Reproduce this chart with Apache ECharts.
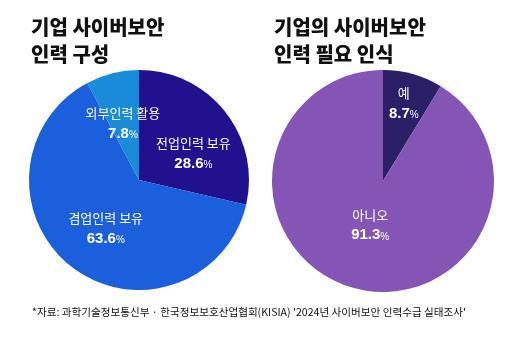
<!DOCTYPE html>
<html><head><meta charset="utf-8">
<script src="https://cdn.jsdelivr.net/npm/echarts@6/dist/echarts.min.js"></script>
<style>html,body{margin:0;padding:0;background:#fff}#c{width:520px;height:362px}</style>
</head><body><div id="c"></div>
<script>
const leftTitle = '기업 사이버보안\n인력 구성';
const rightTitle = '기업의 사이버보안\n인력 필요 인식';
const leftCategories = ['전업인력 보유', '겸업인력 보유', '외부인력 활용'];
const leftValues = [28.6, 63.6, 7.8];
const rightCategories = ['예', '아니오'];
const rightValues = [8.7, 91.3];
const source = "*자료: 과학기술정보통신부 · 한국정보보호산업협회(KISIA) '2024년 사이버보안 인력수급 실태조사'";

const leftColors = ['#21118f', '#1b5fdc', '#1a8bd9'];
const rightColors = ['#2b2068', '#8555b5'];
const leftOffsets = [[9, 10], [2, 3], [-2, 0]];
const rightOffsets = [[5, -21], [3, -12]];

const KR = '"Noto Sans CJK KR", "Noto Sans", sans-serif';
const rich = {
  n: {color: '#fff', fontSize: 13, fontFamily: KR, lineHeight: 20},
  v: {color: '#fff', fontSize: 15, fontWeight: 'bold', fontFamily: 'Liberation Sans, Arial, sans-serif', lineHeight: 21},
  p: {color: '#fff', fontSize: 10, fontFamily: 'Liberation Sans, Arial, sans-serif', lineHeight: 21, padding: [3, 0, 0, 0]}
};

function mk(cats, vals, colors, offs) {
  return cats.map((c, i) => ({
    name: c, value: vals[i],
    itemStyle: {color: colors[i]},
    label: {offset: offs[i]}
  }));
}

const chart = echarts.init(document.getElementById('c'), null, {renderer: 'canvas'});
chart.setOption({
  backgroundColor: '#fff',
  animation: false,
  title: [
    {text: leftTitle, left: 26, top: 9, textStyle: {fontFamily: KR, fontSize: 20, fontWeight: 900, color: '#111', lineHeight: 27}},
    {text: rightTitle, left: 269, top: 9, textStyle: {fontFamily: KR, fontSize: 20, fontWeight: 900, color: '#111', lineHeight: 27}},
    {text: source, left: 27, top: 302, textStyle: {fontFamily: KR, fontSize: 10.6, fontWeight: 'normal', color: '#111'}}
  ],
  series: [
    {
      type: 'pie', center: [139, 180], radius: [0, 110], startAngle: 90, clockwise: true,
      silent: true, avoidLabelOverlap: false,
      labelLayout: {hideOverlap: false},
      label: {position: 'inside', formatter: '{n|{b}}\n{v|{c}}{p|%}', rich: rich},
      labelLine: {show: false},
      itemStyle: {borderWidth: 0},
      data: mk(leftCategories, leftValues, leftColors, leftOffsets)
    },
    {
      type: 'pie', center: [383, 181], radius: [0, 111], startAngle: 90, clockwise: true,
      silent: true, avoidLabelOverlap: false,
      labelLayout: {hideOverlap: false},
      label: {position: 'inside', formatter: '{n|{b}}\n{v|{c}}{p|%}', rich: rich},
      labelLine: {show: false},
      itemStyle: {borderWidth: 0},
      data: mk(rightCategories, rightValues, rightColors, rightOffsets)
    }
  ]
});
</script></body></html>
